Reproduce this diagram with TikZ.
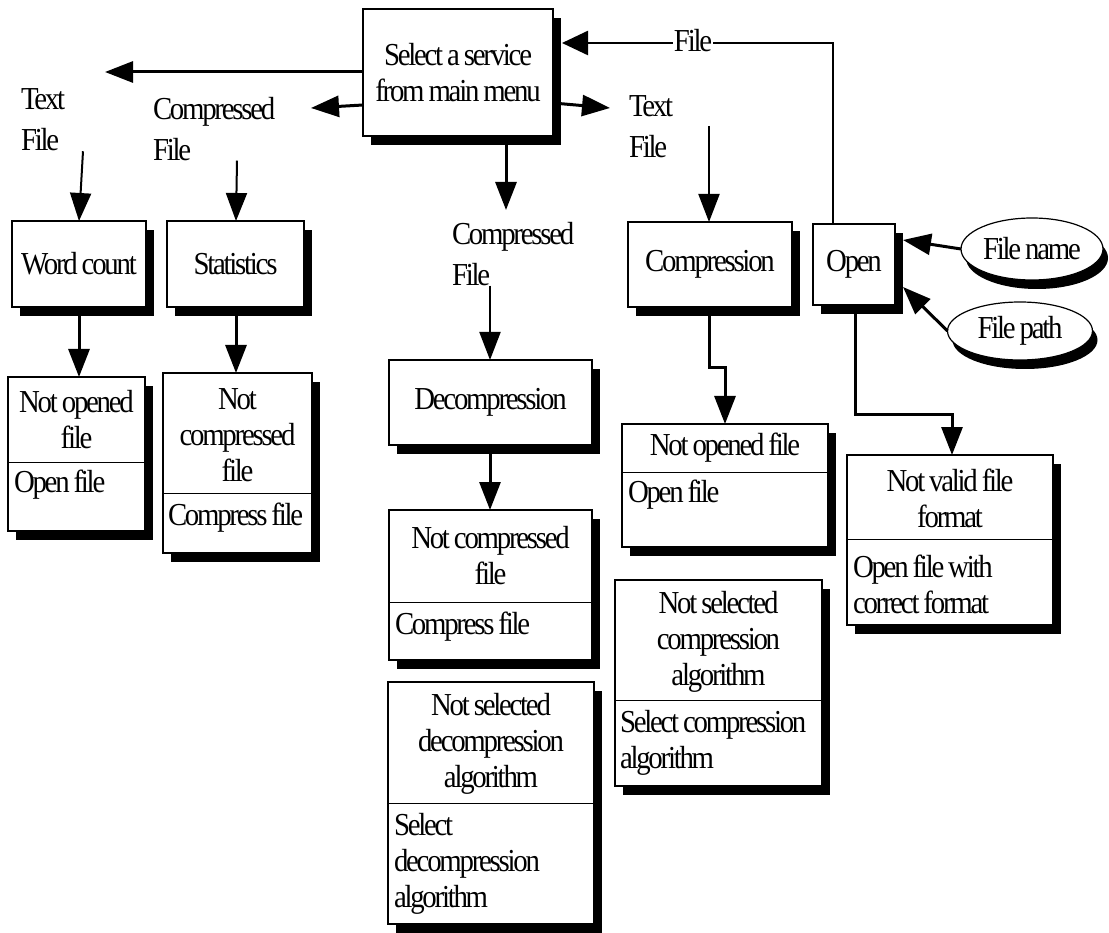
\documentclass[tikz,border=0pt]{standalone}
\usepackage{fontspec}
\setmainfont{Liberation Serif}[FakeStretch=0.9, LetterSpace=-7, WordSpace=0.8]
\usetikzlibrary{arrows.meta,shapes.geometric,shadows}

\begin{document}
\begin{tikzpicture}[x=1pt,y=-1pt,
  every node/.style={inner sep=0pt, outer sep=0pt},
  txt/.style={font=\fontsize{32}{36}\selectfont, align=center},
  ltxt/.style={font=\fontsize{32}{36}\selectfont, align=left, anchor=west},
  lbl/.style={font=\fontsize{32}{41}\selectfont, align=left, anchor=north west},
  boxshadow/.style={drop shadow={shadow xshift=8pt, shadow yshift=-9pt, opacity=1, fill=black}},
  box/.style={draw, line width=1.2pt, fill=white, rectangle, boxshadow, anchor=north west, txt},
  oval/.style={draw, line width=1.2pt, fill=white, ellipse, txt,
    drop shadow={shadow xshift=5pt, shadow yshift=-9pt, opacity=1, fill=black}},
  divider/.style={line width=1pt},
  arr/.style={line width=3pt, -{Triangle[length=28pt,width=21pt]}},
  tarr/.style={line width=2pt, -{Triangle[length=28pt,width=21pt]}},
]
\useasboundingbox (0,0) rectangle (1109,933);

% main menu
\node[box, minimum width=190, minimum height=127] (m) at (363,9) {Select a service\\from main menu};

% service boxes
\node[box, minimum width=134, minimum height=86] (wc) at (12,221) {Word count};
\node[box, minimum width=137, minimum height=86] (st) at (167,221) {Statistics};
\node[box, minimum width=164, minimum height=85] (cp) at (628,222) {Compression};
\node[box, minimum width=82, minimum height=81] (op) at (813,224) {Open};
\node[box, minimum width=203, minimum height=85] (dc) at (389,360) {Decompression};

% error boxes: condition above the line, remedy below
\node[box, minimum width=137, minimum height=154] (no1) at (8,377) {};
\draw[divider] (no1.west |- 0,462) -- (no1.east |- 0,462);
\node[txt] (no1a) at (76.5,420) {Not opened\\file};
\node[ltxt] (no1b) at (14,485) {Open file};

\node[box, minimum width=149, minimum height=180] (nc1) at (163,373) {};
\draw[divider] (nc1.west |- 0,493) -- (nc1.east |- 0,493);
\node[txt] (nc1a) at (237.5,435) {Not\\compressed\\file};
\node[ltxt] (nc1b) at (168,518) {Compress file};

\node[box, minimum width=203, minimum height=150] (nc2) at (389,510) {};
\draw[divider] (nc2.west |- 0,602) -- (nc2.east |- 0,602);
\node[txt] (nc2a) at (490.5,556) {Not compressed\\file};
\node[ltxt] (nc2b) at (395,627) {Compress file};

\node[box, minimum width=206, minimum height=242] (nsd) at (388,682) {};
\draw[divider] (nsd.west |- 0,803) -- (nsd.east |- 0,803);
\node[txt] (nsda) at (491,744) {Not selected\\decompression\\algorithm};
\node[ltxt] (nsdb) at (394,864) {Select\\decompression\\algorithm};

\node[box, minimum width=206, minimum height=123] (no2) at (622,424) {};
\draw[divider] (no2.west |- 0,472) -- (no2.east |- 0,472);
\node[txt] (no2a) at (725,448) {Not opened file};
\node[ltxt] (no2b) at (628,495) {Open file};

\node[box, minimum width=207, minimum height=206] (nsc) at (615,580) {};
\draw[divider] (nsc.west |- 0,700) -- (nsc.east |- 0,700);
\node[txt] (nsca) at (718.5,642) {Not selected\\compression\\algorithm};
\node[ltxt] (nscb) at (620,743) {Select compression\\algorithm};

\node[box, minimum width=206, minimum height=170] (nv) at (847,455) {};
\draw[divider] (nv.west |- 0,539) -- (nv.east |- 0,539);
\node[txt] (nva) at (950,498) {Not valid file\\format};
\node[ltxt] (nvb) at (853,584) {Open file with\\correct format};

% inputs of Open
\node[oval, minimum width=142, minimum height=62] (fn) at (1032,249) {File name};
\node[oval, minimum width=145, minimum height=58] (fp) at (1020,331) {File path};

% flow labels
\node[lbl] (l1) at (21,89) {Text\\File};
\node[lbl] (l2) at (153,97) {Compressed\\File};
\node[lbl] (l3) at (452,222) {Compressed\\File};
\node[lbl] (l4) at (629,96) {Text\\File};

% free arrow ends
\coordinate (ta) at (105,72);
\coordinate (tb) at (311,108);
\coordinate (tc) at (506,210);
\coordinate (td) at (610,108);
\coordinate (te) at (709,126);

% from the main menu
\draw[arr] (m.west |- 0,72) -- (ta);
\draw[arr] (m.west |- 0,105) -- (tb);
\draw[arr] (m.south -| 506,0) -- (tc);
\draw[arr] (m.east |- 0,103) -- (td);

% labels to services
\draw[tarr] (l1.south -| 83,0) -- (wc.north -| 79,0);
\draw[tarr] (l2.south -| 237,0) -- (st.north -| 236,0);
\draw[tarr] (l3.south -| 490,0) -- (dc.north -| 490,0);
\draw[tarr] (te) -- (cp.north -| 709,0);

% services to error boxes
\draw[arr] (wc.south -| 79,0) -- (no1.north -| 79,0);
\draw[arr] (st.south -| 236,0) -- (nc1.north -| 236,0);
\draw[arr] (dc.south -| 490,0) -- (nc2.north -| 490,0);
\draw[arr] (cp.south -| 709,0) |- (725,368) -- (no2.north -| 725,0);
\draw[arr] (op.south -| 855,0) |- (952,414) -- (nv.north -| 952,0);

% opened file back to the main menu
\draw[line width=2.5pt, -{Triangle[length=26pt,width=24pt]}] (op.north -| 833,0) |- ([xshift=9pt]m.east |- 0,43);
\node[txt, fill=white, inner xsep=1pt] (fl) at (693,41) {File};

% inputs into Open
\draw[arr] (fn.west) -- ([xshift=8pt]op.east |- 0,240);
\draw[arr] (fp.west) -- ([xshift=8pt]op.east |- 0,287);

\end{tikzpicture}
\end{document}
